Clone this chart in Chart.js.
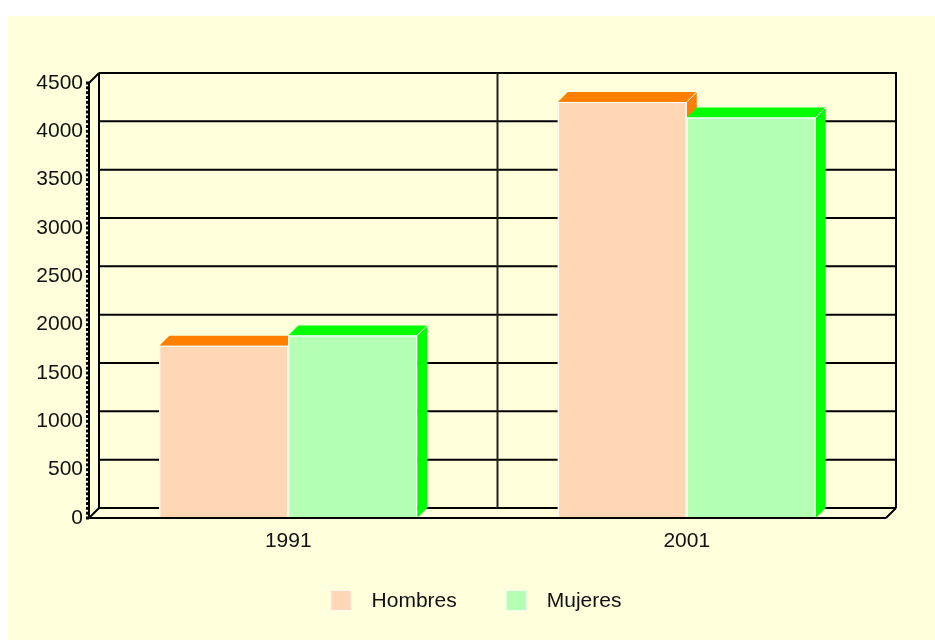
<!DOCTYPE html>
<html>
<head>
<meta charset="utf-8">
<script src="https://cdn.jsdelivr.net/npm/chart.js@4.4.1/dist/chart.umd.min.js"></script>
<style>
  html, body { margin: 0; padding: 0; background: #ffffff; width: 935px; height: 640px; overflow: hidden; }
  #panel { position: absolute; left: 8px; top: 16px; width: 927px; height: 624px; background: #FFFFDC; }
  canvas { display: block; }
</style>
</head>
<body>
<div id="panel"><canvas id="c" width="927" height="624"></canvas></div>
<script>
// ---- data ----
const categories = ['1991', '2001'];
const hombres = [1782, 4303];
const mujeres = [1889, 4144];
const seriesNames = ['Hombres', 'Mujeres'];
const yMin = 0, yMax = 4500, yStep = 500;

// ---- styles ----
const frontColors = ['#FFD7B4', '#B4FFB4'];
const darkColors = ['#FF8000', '#00FF00'];
const FONT = '"Liberation Sans", Arial, sans-serif';
const D = 10; // 3D depth

function line(ctx, x1, y1, x2, y2) {
  ctx.beginPath(); ctx.moveTo(x1, y1); ctx.lineTo(x2, y2); ctx.stroke();
}

const frame3d = {
  id: 'frame3d',
  beforeDatasetsDraw(chart) {
    const { ctx, chartArea: a, scales: { x, y } } = chart;
    ctx.save();
    ctx.strokeStyle = '#000';
    ctx.lineWidth = 2;
    // back grid lines
    y.ticks.forEach(t => {
      const py = y.getPixelForValue(t.value) - D;
      line(ctx, a.left + D, py, a.right + D, py);
    });
    // back verticals
    line(ctx, a.left + D, a.top - D, a.left + D, a.bottom - D);
    line(ctx, a.right + D, a.top - D - 1, a.right + D, a.bottom - D);
    // category dividers
    ctx.strokeStyle = '#222';
    for (let i = 1; i < categories.length; i++) {
      const px = (x.getPixelForValue(i - 1) + x.getPixelForValue(i)) / 2 + D;
      line(ctx, px, a.top - D, px, a.bottom - D);
    }
    ctx.strokeStyle = '#000';
    // top-left and bottom-left diagonals
    line(ctx, a.left, a.top, a.left + D, a.top - D);
    line(ctx, a.left, a.bottom, a.left + D, a.bottom - D);
    ctx.restore();
  },
  afterDatasetsDraw(chart) {
    const { ctx, chartArea: a, scales: { y } } = chart;
    ctx.save();
    const n = chart.data.labels.length;
    for (let i = 0; i < n; i++) {
      chart.data.datasets.forEach((ds, d) => {
        const el = chart.getDatasetMeta(d).data[i];
        const w = el.width;
        const l = el.x - w / 2, r = el.x + w / 2, t = el.y, b = el.base;
        ctx.lineWidth = 1;
        ctx.strokeStyle = '#FFFFFF';
        // front
        ctx.fillStyle = frontColors[d];
        ctx.fillRect(l, t, w, b - t);
        ctx.strokeRect(l + 0.5, t + 0.5, w - 1, b - t - 1);
        // top
        ctx.fillStyle = darkColors[d];
        ctx.beginPath();
        ctx.moveTo(l, t); ctx.lineTo(l + D, t - D); ctx.lineTo(r + D, t - D); ctx.lineTo(r, t); ctx.closePath();
        ctx.fill();
        line(ctx, l, t + 0.5, r, t + 0.5);
        // side
        ctx.beginPath();
        ctx.moveTo(r, t); ctx.lineTo(r + D, t - D); ctx.lineTo(r + D, b - D); ctx.lineTo(r, b); ctx.closePath();
        ctx.fill();
        line(ctx, r, t, r + D, t - D);
        line(ctx, r - 0.5, t, r - 0.5, b);
      });
    }
    // front bottom line and right diagonal
    ctx.strokeStyle = '#000';
    ctx.lineWidth = 2;
    line(ctx, a.left, a.bottom, a.right, a.bottom);
    line(ctx, a.right, a.bottom, a.right + D, a.bottom - D);
    // front axis line with minor ticks
    line(ctx, a.left, a.top, a.left, a.bottom);
    ctx.fillStyle = '#000';
    for (let v = yMin; v <= yMax; v += yStep / 10) {
      const py = y.getPixelForValue(v);
      ctx.fillRect(a.left - 3, py - 1.5, 3, 3);
    }
    ctx.restore();
  },
  afterDraw(chart) {
    // legend
    const { ctx } = chart;
    ctx.save();
    ctx.font = '21px ' + FONT;
    ctx.textBaseline = 'middle';
    const box = 21, gapText = 20, gapItem = 49;
    const items = chart.data.datasets.map((ds, d) => ({ label: ds.label, color: frontColors[d], tw: ctx.measureText(ds.label).width }));
    let total = 0;
    items.forEach((it, k) => { total += box + gapText + it.tw + (k ? gapItem : 0); });
    let lx = 468 - total / 2;
    const ly = 574;
    items.forEach(it => {
      ctx.fillStyle = it.color;
      ctx.fillRect(lx, ly, box, box);
      ctx.strokeStyle = 'rgba(255,255,255,0.8)';
      ctx.lineWidth = 1;
      ctx.strokeRect(lx + 0.5, ly + 0.5, box - 1, box - 1);
      ctx.fillStyle = '#111';
      ctx.fillText(it.label, lx + box + gapText, ly + box / 2 + 1);
      lx += box + gapText + it.tw + gapItem;
    });
    ctx.restore();
  }
};

new Chart(document.getElementById('c'), {
  type: 'bar',
  data: {
    labels: categories,
    datasets: [
      { label: seriesNames[0], data: hombres, backgroundColor: frontColors[0], borderWidth: 0 },
      { label: seriesNames[1], data: mujeres, backgroundColor: frontColors[1], borderWidth: 0 }
    ]
  },
  options: {
    responsive: false,
    animation: false,
    events: [],
    layout: { padding: { left: 0, right: 49, top: 67, bottom: 0 } },
    datasets: { bar: { categoryPercentage: 0.647, barPercentage: 1.0 } },
    plugins: { legend: { display: false }, tooltip: { enabled: false }, title: { display: false } },
    scales: {
      x: {
        grid: { display: false, drawTicks: false },
        border: { display: false },
        ticks: { color: '#111', font: { family: FONT, size: 21 }, padding: 11 },
        afterFit: s => { s.height = 122; }
      },
      y: {
        min: yMin, max: yMax,
        grid: { display: false, drawTicks: false },
        border: { display: false },
        ticks: { stepSize: yStep, color: '#111', font: { family: FONT, size: 21 }, padding: 6, callback: v => String(v) },
        afterFit: s => { s.width = 81; }
      }
    }
  },
  plugins: [frame3d]
});
</script>
</body>
</html>
